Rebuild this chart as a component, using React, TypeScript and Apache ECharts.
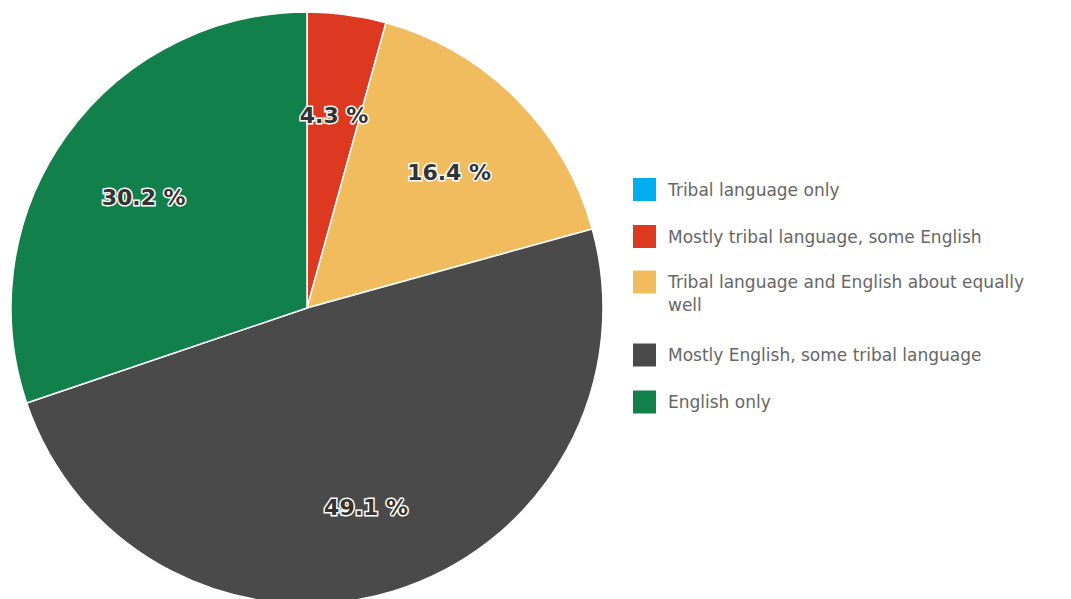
import React, { useEffect, useRef } from "react";
import * as echarts from "echarts";

const categories = [
  "Tribal language only",
  "Mostly tribal language, some English",
  "Tribal language and English about equally well",
  "Mostly English, some tribal language",
  "English only",
];
const shares = [0, 4.3, 16.4, 49.1, 30.2];
const palette = ["#00AEEF", "#DD3820", "#F0BC5E", "#4A4A4A", "#12804B"];

export default function App() {
  const ref = useRef<HTMLDivElement>(null);
  useEffect(() => {
    document.body.style.margin = "0";
    const chart = echarts.init(ref.current!, null, { renderer: "svg" });
    const legendText = {
      fontFamily: "DejaVu Sans",
      fontSize: 17,
      color: "#666666",
      lineHeight: 23,
      padding: [0, 0, 0, 6],
    };
    const legendBase = {
      orient: "vertical" as const,
      left: 631,
      itemWidth: 25,
      itemHeight: 25,
      itemGap: 20,
      padding: 0,
      icon: "rect",
      selectedMode: false,
      textStyle: legendText,
    };
    const data = categories.map((n, i) => ({
      name: n,
      value: shares[i],
      itemStyle: { color: palette[i] },
    }));
    chart.setOption({
      animation: false,
      backgroundColor: "#ffffff",
      legend: [
        { ...legendBase, top: 176, data: [categories[0], categories[1]] },
        {
          ...legendBase,
          top: 247.5,
          data: [categories[2]],
          formatter: (name: string) => "\n" + name.replace(" well", "\nwell"),
        },
        { ...legendBase, top: 341.5, data: [categories[3], categories[4]] },
      ],
      series: [
        {
          type: "pie",
          center: [307, 308],
          radius: [0, 296],
          startAngle: 90,
          clockwise: true,
          avoidLabelOverlap: false,
          silent: true,
          label: { show: false },
          labelLine: { show: false },
          itemStyle: { borderColor: "#ffffff", borderWidth: 1.5 },
          emphasis: { disabled: true },
          data,
        },
        {
          type: "pie",
          center: [307, 308],
          radius: [100, 296],
          startAngle: 90,
          clockwise: true,
          avoidLabelOverlap: false,
          silent: true,
          itemStyle: { color: "rgba(0,0,0,0)", borderWidth: 0 },
          labelLine: { show: false },
          emphasis: { disabled: true },
          label: {
            show: true,
            position: "inside",
            offset: [0, 7],
            fontFamily: "DejaVu Sans",
            fontWeight: "bold",
            fontSize: 22,
            color: "#333333",
            textBorderColor: "#ffffff",
            textBorderWidth: 3,
            formatter: (p: any) => (p.value > 0 ? p.value.toFixed(1) + " %" : ""),
          },
          data: categories.map((n, i) => ({ name: n, value: shares[i] })),
        },
      ],
    });
    return () => chart.dispose();
  }, []);
  return <div ref={ref} style={{ width: 1071, height: 599 }} />;
}
